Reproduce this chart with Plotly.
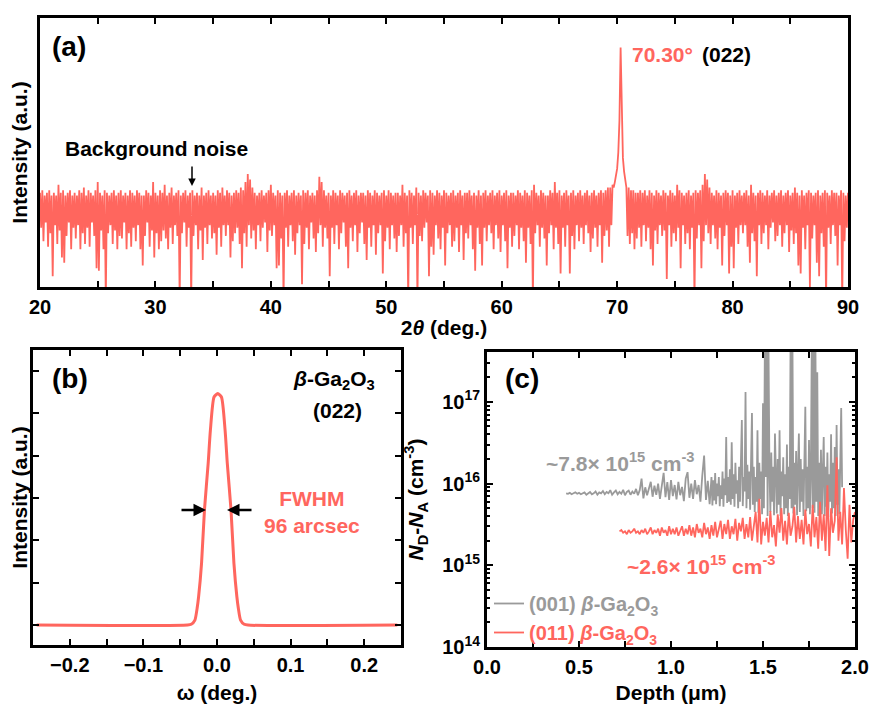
import numpy as np
import plotly.graph_objects as go

RED = '#FF665E'
GRAY = '#9A9A9A'
FONT = 'Liberation Sans, Arial, sans-serif'

# ---------------- (a) 2theta scan ----------------
two_theta = np.round(np.arange(20.0, 90.0001, 0.1), 1)
xrd_rows = [
    [35,22,36,17,34,24,35,15,36,20], [34,4,35,23,34,16,38,21,35,11],
    [36,9,34,19,35,24,36,14,34,22], [35,18,34,23,36,14,35,20,37,16],
    [34,22,36,15,35,24,34,19,36,7], [39,6,35,21,34,14,36,-5,35,20],
    [34,23,35,16,36,21,34,14,35,19], [36,18,34,24,35,14,34,20,36,15],
    [35,22,34,17,36,23,35,14,34,8], [34,19,36,24,35,15,34,21,39,11],
    [35,20,34,14,36,17,35,21,38,18], [34,14,35,22,37,16,34,23,35,19],
    [36,-5,34,20,35,24,36,15,34,22], [35,-5,36,19,34,23,35,14,34,21],
    [37,10,34,22,35,16,36,23,34,18], [35,20,34,12,36,22,35,15,37,23],
    [34,19,36,23,35,11,34,17,35,20], [36,22,35,16,37,7,36,20,39,15],
    [42,23,40,18,37,21,35,14,34,23], [35,17,36,22,34,24,35,13,36,21],
    [38,19,35,23,34,7,36,8,35,18], [34,-5,35,22,36,15,34,23,35,17],
    [36,12,34,20,35,23,34,1,36,16], [35,22,36,14,34,24,35,18,34,13],
    [36,20,41,23,39,15,36,22,34,18], [35,4,34,22,36,16,35,23,34,14],
    [36,20,35,24,34,15,35,7,36,22], [34,17,35,23,36,13,34,20,35,24],
    [35,16,34,10,36,22,35,15,34,23], [36,12,35,20,34,23,35,5,36,17],
    [34,22,36,14,35,23,34,18,35,13], [35,19,34,23,38,15,35,20,34,-5],
    [36,22,35,16,34,23,37,-5,35,19], [34,17,36,22,35,24,34,4,36,15],
    [35,12,34,23,36,18,35,14,34,22], [36,8,35,20,34,23,35,15,36,17],
    [34,22,35,13,36,23,34,10,35,20], [35,18,36,23,34,14,35,6,34,22],
    [36,16,34,8,35,22,36,17,34,23], [35,20,36,14,34,23,35,18,36,13],
    [34,23,35,17,36,7,34,22,35,15], [35,19,34,23,36,14,35,22,34,17],
    [36,9,35,22,34,16,36,-5,38,20], [35,23,34,15,36,22,35,18,34,8],
    [34,20,36,23,35,14,39,22,35,16], [36,5,34,22,35,15,36,23,34,5],
    [35,19,36,14,34,23,35,17,36,22], [34,16,35,23,36,20,34,13,35,18],
    [36,22,34,15,35,23,36,9,35,19], [36,21,37,15,37,23,38,37,39,41],
    [44,50,62,89,60,48,43,40,37,19], [37,16,36,20,36,14,35,18,35,22],
    [36,15,35,23,36,17,34,22,36,14], [35,8,34,21,36,16,35,23,34,19],
    [36,21,35,3,34,23,36,15,35,20], [34,17,38,22,36,7,35,23,34,16],
    [35,20,36,14,34,22,35,-5,36,18], [35,23,36,7,38,17,42,23,40,20],
    [37,16,35,23,34,18,36,14,35,22], [34,8,35,19,36,23,35,5,34,15],
    [36,7,34,22,35,16,36,23,34,20], [35,23,36,15,34,9,38,20,35,17],
    [34,4,35,23,36,16,35,20,34,23], [36,14,34,22,35,24,36,17,34,19],
    [35,23,36,15,34,20,35,23,36,13], [34,21,35,16,37,20,35,8,34,5],
    [36,22,34,14,35,23,36,0,35,18], [34,23,35,9,36,4,34,20,35,15],
    [36,-5,35,22,34,16,36,23,35,19], [35,8,34,23,36,-5,35,17,34,22],
]
xrd_last = [35]
xrd_intensity = [v for row in xrd_rows for v in row] + xrd_last

# ---------------- (b) rocking curve ----------------
omega = [-0.245, -0.04, -0.035, -0.03, -0.027, -0.025, -0.021, -0.017, -0.012, -0.009, -0.004,
         0.001, 0.006, 0.011, 0.014, 0.019, 0.023, 0.027, 0.029, 0.032, 0.037, 0.042, 0.245]
rc_intensity = [0, 0, 0.02, 0.12, 0.4, 0.67, 1.46, 2.73, 3.82, 4.6, 5.39,
                5.47, 5.39, 4.6, 3.82, 2.73, 1.46, 0.67, 0.4, 0.12, 0.02, 0, 0]

# ---------------- (c) C-V depth profiles (units of 1e15 cm^-3) ----------------
# (001): 0.01 um steps up to 1.22 um, then 0.005 um steps to 1.93 um
depth_001_a = np.round(np.arange(0.43, 1.22001, 0.01), 2)
depth_001_b = np.round(np.arange(1.225, 1.93001, 0.005), 3)
nd_001_a = [
    7.6, 7.5, 7.7, 7.4, 7.6, 7.8, 7.5, 7.7, 7.4, 7.6,
    7.8, 7.3, 7.7, 7.9, 7.4, 7.6, 8.0, 7.3, 7.8, 7.6,
    8.1, 7.4, 7.9, 7.6, 8.3, 7.3, 7.8, 8.2, 7.4, 7.9,
    7.5, 8.4, 7.2, 7.9, 8.2, 7.3, 8.0, 7.5, 8.6, 7.2,
    8.3, 11.5, 6.6, 9.0, 7.2, 8.6, 10.5, 6.9, 9.4, 7.3,
    10.0, 6.5, 9.2, 13.5, 6.8, 10.4, 6.3, 11.0, 7.0, 9.6,
    6.4, 10.5, 7.2, 9.1, 6.1, 11.5, 13.8, 6.7, 10.0, 6.5,
    11.0, 7.4, 9.6, 6.0, 12.5, 22.0, 6.3, 10.8, 5.6, 12.0,
]
nd_001_b = [
    5.4, 11.0, 6.2, 13.5, 5.6, 10.0, 7.0, 12.0, 5.3, 9.5,
    6.5, 14.0, 5.2, 11.5, 7.2, 37.0, 5.8, 12.0, 6.0, 15.0,
    5.5, 32.0, 6.5, 13.0, 5.2, 18.0, 7.5, 11.0, 5.0, 16.0,
    6.0, 14.0, 60.0, 5.3, 12.0, 8.0, 132.0, 5.0, 17.0, 6.5,
    14.0, 4.8, 22.0, 73.0, 5.5, 16.0, 4.5, 12.0, 6.0, 45.0,
    4.4, 18.0, 6.5, 14.0, 4.2, 96.0, 5.0, 500.0, 12.0, 600.0,
    4.0, 450.0, 15.0, 4.5, 24.0, 6.0, 16.0, 4.1, 41.0, 10.0,
    4.3, 20.0, 5.5, 45.0, 4.0, 14.0, 7.0, 21.0, 4.2, 13.0,
    5.0, 30.0, 4.0, 16.0, 6.5, 700.0, 5.0, 600.0, 4.3, 18.0,
    5.5, 25.0, 4.1, 14.0, 41.0, 4.5, 20.0, 6.0, 15.0, 4.0,
    22.0, 87.0, 4.6, 16.0, 5.0, 34.0, 4.2, 13.0, 500.0, 5.0,
    600.0, 4.4, 500.0, 6.0, 230.0, 4.0, 18.0, 5.5, 26.0, 4.2,
    14.0, 37.0, 4.0, 16.0, 5.2, 24.0, 3.9, 13.0, 6.0, 40.0,
    4.3, 18.0, 5.0, 28.0, 4.0, 52.0, 5.5, 15.0, 4.2, 22.0,
    84.0, 9.0,
]
depth_011 = np.round(np.arange(0.72, 2.00001, 0.01), 2)
nd_011 = [
    2.6, 2.7, 2.5, 2.6, 2.4, 2.7, 2.5, 2.6, 2.8, 2.5,
    2.6, 2.4, 2.7, 2.5, 2.8, 2.4, 2.6, 2.9, 2.4, 2.7,
    2.5, 2.8, 2.3, 2.9, 2.5, 2.7, 2.3, 3.0, 2.4, 2.8,
    2.4, 2.9, 2.3, 2.7, 3.0, 2.3, 2.8, 2.4, 3.1, 2.3,
    2.9, 2.2, 3.2, 2.5, 2.8, 2.2, 3.3, 2.4, 2.9, 2.1,
    3.1, 2.3, 3.4, 2.2, 2.9, 3.5, 2.1, 3.2, 2.4, 3.6,
    2.1, 3.0, 2.4, 3.7, 2.0, 3.3, 2.6, 3.8, 2.1, 3.2,
    2.2, 3.9, 2.0, 3.1, 4.5, 1.9, 6.5, 1.8, 3.4, 2.3,
    3.8, 1.9, 4.6, 2.2, 3.1, 1.7, 4.2, 2.5, 5.0, 2.0,
    3.5, 1.8, 4.4, 2.3, 3.0, 5.2, 1.9, 4.0, 2.1, 3.6,
    1.8, 4.8, 2.4, 3.2, 1.7, 5.5, 2.2, 3.9, 1.6, 6.0,
    2.0, 4.2, 1.5, 9.5, 1.3, 5.0, 2.5, 3.5, 21.0, 2.0,
    4.5, 1.8, 8.8, 2.7, 1.2, 5.5, 1.9, 3.6, 4.5,
]
c_tick_vals = [1e14, 1e15, 1e16, 1e17]
c_tick_text = ['10<sup>14</sup>', '10<sup>15</sup>', '10<sup>16</sup>', '10<sup>17</sup>']

depth_001 = np.concatenate([depth_001_a, depth_001_b])
nd_001 = np.array(nd_001_a + nd_001_b)

# page has an 8px body margin: figure is 868x696 and placed at (8, 8)
OFF = 8
W, H = 868, 696
def PX(x):
    return (x - OFF) / W
def PY(y):
    return 1 - (y - OFF) / H

fig = go.Figure()
fig.add_trace(go.Scatter(x=two_theta, y=xrd_intensity, mode='lines',
                         line=dict(color=RED, width=1.8), showlegend=False,
                         xaxis='x', yaxis='y'))
fig.add_trace(go.Scatter(x=omega, y=rc_intensity, mode='lines',
                         line=dict(color=RED, width=3, shape='spline', smoothing=0.6),
                         showlegend=False, xaxis='x2', yaxis='y2'))
fig.add_trace(go.Scatter(x=depth_001, y=nd_001 * 1e15, mode='lines',
                         line=dict(color=GRAY, width=1.8),
                         name='<span style="color:#9A9A9A">(001) <i>β</i>-Ga<sub>2</sub>O<sub>3</sub></span>',
                         xaxis='x3', yaxis='y3'))
fig.add_trace(go.Scatter(x=depth_011, y=np.array(nd_011) * 1e15, mode='lines',
                         line=dict(color=RED, width=1.8),
                         name='<span style="color:#FF665E">(011) <i>β</i>-Ga<sub>2</sub>O<sub>3</sub></span>',
                         xaxis='x3', yaxis='y3'))

tickfont = dict(family=FONT, size=20, color='black', weight='bold')
titlefont = dict(family=FONT, size=21, color='black', weight='bold')
common = dict(showline=True, linewidth=3, linecolor='black', showgrid=False,
              zeroline=False, ticks='inside', ticklen=6, tickwidth=2, tickcolor='black',
              tickfont=tickfont, automargin=False)

fig.update_layout(
    width=W, height=H, margin=dict(l=0, r=0, t=0, b=0),
    plot_bgcolor='white', paper_bgcolor='white',
    font=dict(family=FONT, size=20, color='black', weight='bold'),
    xaxis=dict(domain=[PX(40), PX(848)], range=[20, 90], anchor='y', dtick=10, tick0=0,
               mirror='allticks',
               minor=dict(dtick=5, ticks='inside', ticklen=6, tickwidth=2, tickcolor='black'),
               title=dict(text='2<i>θ</i> (deg.)', font=titlefont, standoff=4), **common),
    yaxis=dict(domain=[PY(287), PY(18)], range=[0, 100], anchor='x', showticklabels=False,
               showline=True, linewidth=3, linecolor='black', mirror=True, showgrid=False,
               zeroline=False, ticks='', automargin=False,
               title=dict(text='Intensity (a.u.)', font=titlefont, standoff=8)),
    xaxis2=dict(domain=[PX(33), PX(401)], range=[-0.25, 0.25], anchor='y2', dtick=0.1, tick0=0,
                tickformat='.1f', mirror='allticks',
                minor=dict(dtick=0.05, ticks='inside', ticklen=6, tickwidth=2, tickcolor='black'),
                title=dict(text='ω (deg.)', font=titlefont, standoff=24), **common),
    yaxis2=dict(domain=[PY(645), PY(350)], range=[-0.47, 6.5], anchor='x2', dtick=1, tick0=0,
                showticklabels=False, mirror='allticks',
                title=dict(text='Intensity (a.u.)', font=titlefont, standoff=10),
                **{k: v for k, v in common.items() if k != 'tickfont'}),
    xaxis3=dict(domain=[PX(487), PX(855)], range=[0, 2], anchor='y3', dtick=0.5, tick0=0,
                tickformat='.1f', mirror='allticks',
                minor=dict(dtick=0.25, ticks='inside', ticklen=6, tickwidth=2, tickcolor='black'),
                title=dict(text='Depth (μm)', font=titlefont, standoff=11), **common),
    yaxis3=dict(domain=[PY(647), PY(352)], type='log', range=[14, 17.61], anchor='x3',
                tickmode='array', tickvals=c_tick_vals, ticktext=c_tick_text,
                mirror='allticks',
                minor=dict(ticks='inside', ticklen=3, tickwidth=1.5, tickcolor='black', dtick='D1'),
                title=dict(text='<i>N</i><sub>D</sub>-<i>N</i><sub>A</sub> (cm<sup>-3</sup>)',
                           font=titlefont, standoff=13), **common),
    legend=dict(x=PX(489), y=PY(584), xanchor='left', yanchor='top',
                bgcolor='rgba(0,0,0,0)', font=dict(family=FONT, size=20, weight='bold'),
                itemwidth=30, tracegroupgap=0),
)

def note(text, x, y, size=21, color='black', xanchor='center'):
    fig.add_annotation(text=text, x=PX(x), y=PY(y), xref='paper', yref='paper',
                       showarrow=False, xanchor=xanchor, yanchor='middle',
                       font=dict(family=FONT, size=size, color=color, weight='bold'))

note('(a)', 69, 47, size=28)
note('Background noise', 156, 148)
note('70.30°', 662, 54, color=RED)
note('(022)', 726, 54)
note('(b)', 70, 378, size=28)
note('<i>β</i>-Ga<sub>2</sub>O<sub>3</sub>', 377, 380, xanchor='right')
note('(022)', 337, 410)
note('FWHM<br>96 arcsec', 312, 512, color=RED)
note('(c)', 522, 378, size=28)
note('~7.8× 10<sup>15</sup> cm<sup>-3</sup>', 620, 462, color=GRAY)
note('~2.6× 10<sup>15</sup> cm<sup>-3</sup>', 701, 565, color=RED)

def arrow(xh, yh, ax, ay, width=1.5):
    fig.add_annotation(x=PX(xh), y=PY(yh), xref='paper', yref='paper', ax=ax, ay=ay,
                       axref='pixel', ayref='pixel', text='', showarrow=True,
                       arrowhead=2, arrowsize=1, arrowwidth=width, arrowcolor='black')

arrow(192, 186, 0, -21)
arrow(206, 510, -26, 0, width=2.5)
arrow(227, 510, 26, 0, width=2.5)

fig.write_html('out.html')
